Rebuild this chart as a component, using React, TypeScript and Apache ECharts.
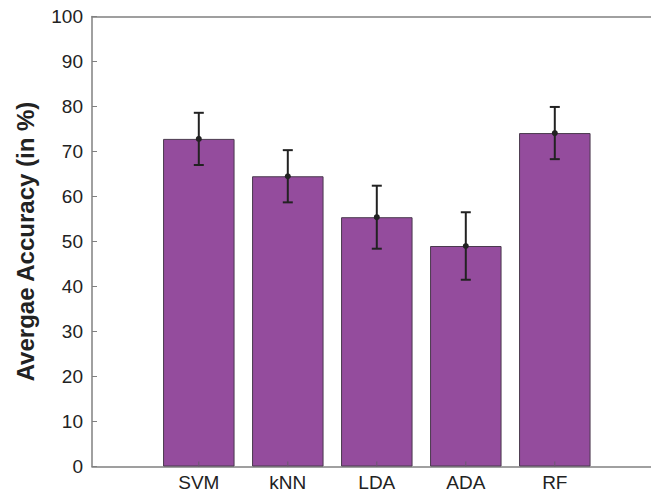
import React, { useEffect, useRef } from "react";
import * as echarts from "echarts";

const categories = ["SVM", "kNN", "LDA", "ADA", "RF"];
const positions = [1, 2, 3, 4, 5];
const meanAccuracy = [72.8, 64.5, 55.4, 49.0, 74.1];
const stdAccuracy = [5.8, 5.8, 7.0, 7.5, 5.8];
const yTicks = [0, 10, 20, 30, 40, 50, 60, 70, 80, 90, 100];

const FONT = "Liberation Sans, Arial, sans-serif";

export default function App() {
  const ref = useRef<HTMLDivElement>(null);
  useEffect(() => {
    if (!ref.current) return;
    const chart = echarts.init(ref.current, null, { renderer: "svg" });
    const barData = positions.map((p, i) => [p, meanAccuracy[i]]);
    const errData = positions.map((p, i) => [
      p,
      meanAccuracy[i] - stdAccuracy[i],
      meanAccuracy[i] + stdAccuracy[i],
      meanAccuracy[i],
    ]);
    const labelData = positions.map((p) => [p, 0]);
    const frameLine = { show: true, onZero: false, lineStyle: { color: "#808080", width: 1.5 } };
    chart.setOption({
      animation: false,
      backgroundColor: "#ffffff",
      grid: {
        left: 92,
        top: 16.5,
        width: 569.6,
        height: 450,
        outerBoundsMode: "none",
        containLabel: false,
        show: false,
      },
      xAxis: [
        {
          type: "value",
          position: "bottom",
          min: -0.2,
          max: 6.2,
          axisLine: frameLine,
          axisTick: { show: false },
          axisLabel: { show: false },
          splitLine: { show: false },
        },
        {
          type: "value",
          position: "top",
          min: -0.2,
          max: 6.2,
          axisLine: frameLine,
          axisTick: { show: false },
          axisLabel: { show: false },
          splitLine: { show: false },
        },
      ],
      yAxis: {
        type: "value",
        min: yTicks[0],
        max: yTicks[yTicks.length - 1],
        interval: 10,
        name: "Avergae Accuracy (in %)",
        nameLocation: "middle",
        nameGap: 55,
        nameTextStyle: {
          fontFamily: FONT,
          fontWeight: "bold",
          fontSize: 24,
          color: "#222222",
        },
        axisLine: frameLine,
        axisTick: {
          show: true,
          inside: true,
          length: 5,
          lineStyle: { color: "#808080", width: 1 },
        },
        axisLabel: {
          fontFamily: FONT,
          fontSize: 19,
          color: "#222222",
          margin: 9,
        },
        splitLine: { show: false },
      },
      series: [
        {
          type: "bar",
          xAxisIndex: 0,
          data: barData,
          barWidth: 71.5,
          itemStyle: {
            color: "#944c9d",
            borderColor: "#4a3a4e",
            borderWidth: 1,
          },
          z: 2,
        },
        {
          type: "custom",
          xAxisIndex: 0,
          data: errData,
          z: 5,
          renderItem: (params: any, api: any) => {
            const x = api.value(0);
            const lo = api.coord([x, api.value(1)]);
            const hi = api.coord([x, api.value(2)]);
            const mid = api.coord([x, api.value(3)]);
            const cap = 5;
            const style = { stroke: "#222222", lineWidth: 2 };
            return {
              type: "group",
              children: [
                { type: "line", shape: { x1: lo[0], y1: lo[1], x2: hi[0], y2: hi[1] }, style },
                { type: "line", shape: { x1: lo[0] - cap, y1: lo[1], x2: lo[0] + cap, y2: lo[1] }, style },
                { type: "line", shape: { x1: hi[0] - cap, y1: hi[1], x2: hi[0] + cap, y2: hi[1] }, style },
                { type: "circle", shape: { cx: mid[0], cy: mid[1], r: 3 }, style: { fill: "#222222" } },
              ],
            };
          },
        },
        {
          type: "custom",
          xAxisIndex: 0,
          data: labelData,
          z: 6,
          renderItem: (params: any, api: any) => {
            const x = api.value(0);
            const base = api.coord([x, api.value(1)]);
            return {
              type: "group",
              children: [
                {
                  type: "line",
                  shape: { x1: base[0], y1: base[1], x2: base[0], y2: base[1] - 5 },
                  style: { stroke: "#6a5a6e", lineWidth: 1 },
                },
                {
                  type: "text",
                  x: base[0],
                  y: base[1] + 16,
                  style: {
                    text: categories[params.dataIndex],
                    fontFamily: FONT,
                    fontSize: 19,
                    fill: "#222222",
                    align: "center",
                    verticalAlign: "middle",
                  },
                },
              ],
            };
          },
        },
      ],
    });
    return () => chart.dispose();
  }, []);
  return (
    <div
      ref={ref}
      style={{ position: "fixed", left: 0, top: 0, width: 651, height: 493 }}
    />
  );
}
